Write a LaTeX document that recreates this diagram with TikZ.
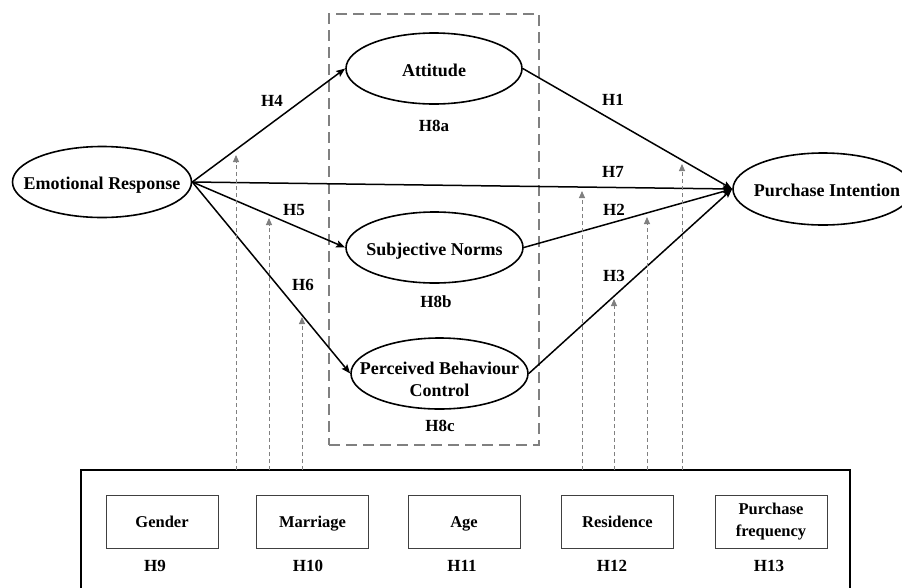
\documentclass[tikz,border=0pt]{standalone}
\usepackage{fontspec}
\setmainfont{Liberation Serif}
\usetikzlibrary{shapes.geometric,arrows.meta}
\begin{document}
\begin{tikzpicture}[x=1pt,y=-1pt,
  bigfont/.style={font=\bfseries\fontsize{18}{22}\selectfont},
  hfont/.style={font=\bfseries\fontsize{17}{20}\selectfont},
  boxfont/.style={font=\bfseries\fontsize{16.5}{22}\selectfont},
  ell/.style={ellipse,draw,line width=1.6pt,inner sep=0pt},
  lab/.style={bigfont,align=center,inner sep=0pt},
  onelab/.style={lab,text height=12.5pt,text depth=0pt,yshift=-1.5pt},
  hlab/.style={hfont,inner sep=0pt},
  arr/.style={line width=1.5pt,-{Stealth[length=9pt,width=7pt,inset=1.5pt]}},
  garr/.style={gray,line width=0.9pt,dash pattern=on 4pt off 3pt,-{Triangle[length=7pt,width=6pt]}},
  grpframe/.style={draw=gray,line width=1.5pt,dash pattern=on 11pt off 6pt,inner sep=0pt},
  modframe/.style={draw,line width=2.5pt,inner sep=0pt},
  smallbox/.style={draw=black!75,line width=1pt,minimum width=112pt,minimum height=53pt,inner sep=0pt,boxfont,align=center},
  onebox/.style={smallbox,text height=12pt,text depth=0pt}
]
\fill[white] (0,0) rectangle (902,587);
\useasboundingbox (0,0) rectangle (902,587);

% grouping frame
\node[grpframe,minimum width=210pt,minimum height=431pt] (grp) at (434,229.5) {};

% constructs
\node[ell,minimum width=179pt,minimum height=71pt,label={[onelab]center:Emotional Response}] (er) at (102,182) {};
\node[ell,minimum width=176pt,minimum height=71pt,label={[onelab]center:Attitude}] (att) at (434,68.5) {};
\node[ell,minimum width=177pt,minimum height=71pt,label={[onelab]center:Subjective Norms}] (sn) at (434.5,247.5) {};
\node[ell,minimum width=177pt,minimum height=71pt,label={[lab,yshift=-6pt]center:Perceived Behaviour\\Control}] (pbc) at (439.5,373.5) {};
\node[ell,minimum width=180pt,minimum height=72pt,label={[onelab,xshift=4pt]center:Purchase Intention}] (pi) at (823,189) {};

% H8 labels
\node[hlab] (h8a) at (434,126) {H8a};
\node[hlab] (h8b) at (436,302) {H8b};
\node[hlab] (h8c) at (440,426) {H8c};

% main paths
\draw[arr] (er.east) -- (att.west);
\draw[arr] (er.east) -- (sn.west);
\draw[arr] (er.east) -- (pbc.west);
\draw[arr] (er.east) -- (pi.west);
\draw[arr] (att.east) -- (pi.west);
\draw[arr] (sn.east) -- (pi.west);
\draw[arr] (pbc.east) -- (pi.west);

% path labels
\node[hlab] (h4) at (272,101) {H4};
\node[hlab] (h5) at (294,210) {H5};
\node[hlab] (h6) at (303,285) {H6};
\node[hlab] (h1) at (613,100) {H1};
\node[hlab] (h7) at (613,172) {H7};
\node[hlab] (h2) at (614,210) {H2};
\node[hlab] (h3) at (614,276) {H3};

% moderator box
\node[modframe,minimum width=769pt,minimum height=150pt] (mod) at (465.5,545) {};
\node[onebox] (gender) at (162,521.5) {Gender};
\node[onebox] (marriage) at (312.5,521.5) {Marriage};
\node[onebox] (age) at (464,521.5) {Age};
\node[onebox] (residence) at (617.5,521.5) {Residence};
\node[smallbox] (freq) at (771,521.5) {Purchase\\frequency};
\node[hlab] (h9) at (155,566) {H9};
\node[hlab] (h10) at (308,566) {H10};
\node[hlab] (h11) at (462,566) {H11};
\node[hlab] (h12) at (612,566) {H12};
\node[hlab] (h13) at (769,566) {H13};

% moderating dashed arrows
\coordinate (m1) at (236,470); \coordinate (t1) at (236,155);
\coordinate (m2) at (269,470); \coordinate (t2) at (269,218);
\coordinate (m3) at (302,470); \coordinate (t3) at (302,317);
\coordinate (m4) at (582,470); \coordinate (t4) at (582,191);
\coordinate (m5) at (614,470); \coordinate (t5) at (614,299);
\coordinate (m6) at (647,470); \coordinate (t6) at (647,217);
\coordinate (m7) at (682,470); \coordinate (t7) at (682,164);
\foreach \i in {1,...,7} {\draw[garr] (m\i) -- (t\i);}
\end{tikzpicture}
\end{document}
